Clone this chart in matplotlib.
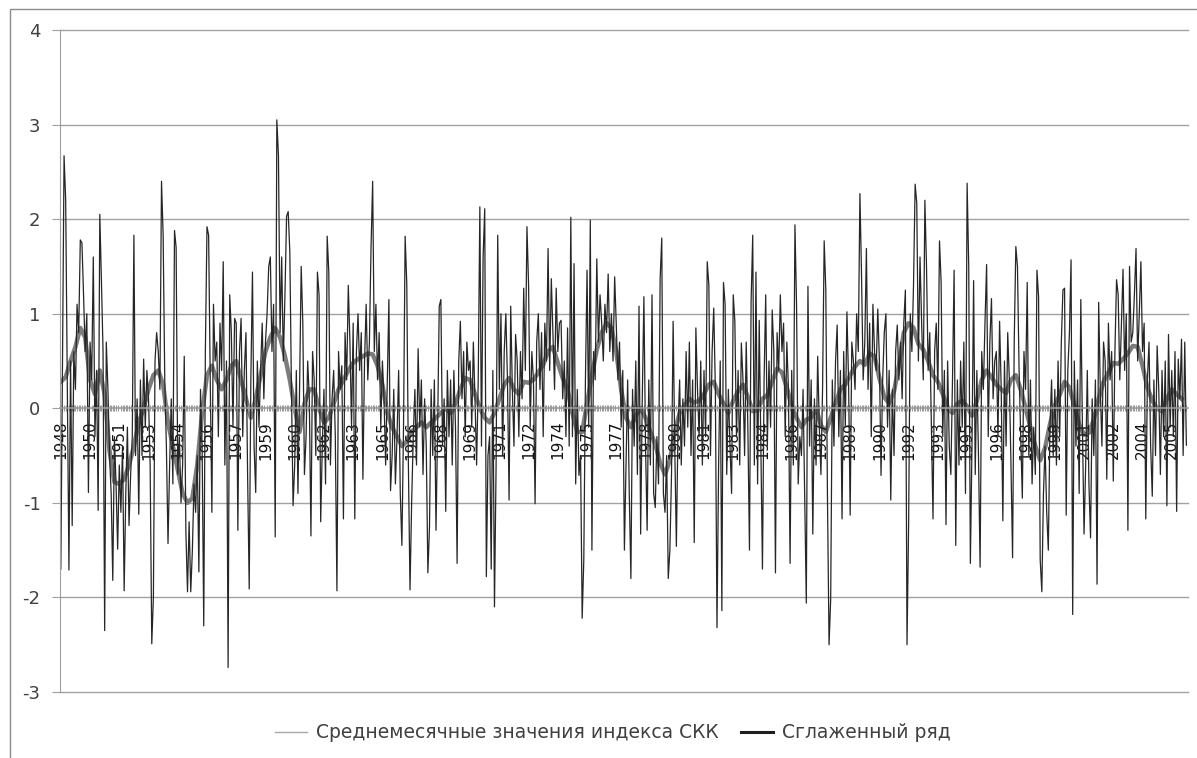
import matplotlib.pyplot as plt
import numpy as np
from matplotlib.lines import Line2D
from matplotlib.patches import Rectangle


# monthly index values, one row per 12 months
SKK_MONTHLY = [
    -1.7, 0.4, 2.67, 2.2, 0.3, -1.71, 0.5, -1.24, 0.6, 0.2, 1.1, 0.8,
    1.78, 1.75, 1.2, 0.6, 1.0, -0.89, 0.7, 0.3, 1.6, -0.3, 0.4, -1.08,
    2.05, 1.35, 0.6, -2.35, 0.7, 0.2, -0.5, -0.9, -1.82, -0.3, -0.8, -1.49,
    -0.6, -1.1, -0.4, -1.93, -0.9, -0.2, -1.24, -0.7, -0.3, 1.83, -0.5, 0.1,
    -1.12, 0.3, -0.5, 0.52, -0.2, 0.4, 0.1, -0.6, -2.49, -2.0, 0.5, 0.8,
    0.6, 0.2, 2.40, 1.83, 0.3, -0.4, -1.43, -0.6, 0.1, -0.8, 1.88, 1.7,
    -0.7, -0.3, -1.0, -0.6, 0.55, -1.3, -1.94, -1.2, -1.94, -1.5, -0.8, -1.1,
    -0.5, -1.73, 0.2, -0.4, -2.3, 0.6, 1.92, 1.83, 0.3, -1.1, 1.1, 0.5,
    0.7, -0.3, 0.9, 0.4, 1.55, -0.6, 0.5, -2.74, 1.2, 0.8, -0.2, 0.95,
    0.9, -1.29, 0.6, 0.95, -0.3, 0.4, 0.8, -0.7, -1.91, 0.3, 1.44, -0.4,
    -0.89, 0.5, -0.2, 0.4, 0.9, 0.1, 0.7, 1.0, 1.5, 1.6, 0.6, 1.1,
    -1.36, 3.05, 2.67, 0.8, 1.6, 0.5, 1.2, 2.03, 2.08, 1.65, 0.2, -1.03,
    -0.6, 0.4, -0.9, 0.2, 1.5, 0.9, -0.7, -0.3, 0.5, 0.1, -1.35, 0.6,
    0.3, -0.5, 1.44, 1.2, -1.2, -0.4, 0.2, -0.8, 1.82, 1.44, -0.6, 0.1,
    0.4, -0.3, -1.93, 0.6, 0.2, 0.45, -1.17, 0.8, 0.3, 1.3, 0.7, -0.2,
    0.9, -1.17, 0.6, 1.0, 0.4, 0.8, -0.75, 0.5, 1.1, 0.3, 0.7, 1.7,
    2.4, 0.6, 1.1, 0.3, 0.8, -0.2, 0.5, 0.1, -0.6, 0.3, 1.15, -0.87,
    -0.5, 0.2, -0.8, -0.3, 0.4, -0.9, -1.45, -0.2, 1.82, 1.32, -0.6, -1.92,
    -1.0, -0.3, 0.2, -0.6, 0.63, -0.2, 0.3, -0.7, 0.1, -0.4, -1.74, -1.25,
    0.2, -0.5, 0.3, -1.29, -0.2, 1.08, 1.15, -0.4, 0.1, -1.09, 0.4, -0.3,
    0.3, -0.6, 0.4, -0.2, -1.64, 0.5, 0.92, 0.1, 0.6, -0.3, 0.7, 0.4,
    0.5, -0.2, 0.7, 0.1, -0.6, 0.3, 2.13, -0.4, 1.6, 2.11, -1.78, -0.5,
    -0.3, -1.7, 0.4, -2.1, -0.6, 1.83, 0.2, 1.0, -0.5, 0.6, 1.0, 0.3,
    -0.97, 1.08, 0.2, -0.4, 0.78, 0.5, -0.3, 0.6, 0.1, 1.27, 0.4, 1.92,
    1.3, -0.2, 0.6, 0.3, -1.01, 0.7, 1.0, 0.2, 0.8, -0.3, 0.9, 0.5,
    1.69, 0.4, 1.37, 0.8, 0.2, 1.27, 0.6, 0.9, 0.93, 0.1, 0.5, -0.3,
    0.85, -0.4, 2.02, -0.3, 1.53, -0.8, 0.2, -0.71, -0.5, -2.22, -1.6, 0.3,
    1.46, -0.2, 1.99, -1.5, 0.6, 0.3, 1.58, 0.7, 1.2, 0.9, 0.5, 1.1,
    0.8, 1.42, 0.6, 1.0, 0.5, 1.39, 0.88, 0.3, 0.7, -0.2, 0.4, -1.5,
    -0.6, 0.3, -0.9, -1.8, 0.2, -0.4, 0.5, -0.7, 1.08, -1.33, 0.1, 1.18,
    -0.4, -1.29, 0.3, -0.6, 1.2, -0.9, -1.05, -0.3, -0.8, 1.37, 1.8, -0.9,
    -1.1, -0.5, -1.8, -1.5, -0.7, 0.92, -0.4, -1.46, -0.2, 0.3, -0.6, 0.1,
    -0.4, 0.6, -0.2, 0.7, -0.5, 0.3, -1.42, 0.85, 0.2, -0.3, 0.5, -0.6,
    0.4, -0.3, 1.55, 1.3, -0.5, 0.6, 1.06, 0.2, -2.32, -0.6, 0.5, -2.14,
    1.33, 1.1, -0.7, 0.2, -0.4, -0.9, 1.2, 0.92, -0.3, 0.4, -0.6, 0.69,
    0.3, -0.5, 0.7, -0.2, -1.5, 1.12, 1.83, -0.6, 1.44, -0.8, 0.93, -0.4,
    -1.7, 0.3, 1.2, -0.4, 0.5, -0.2, 1.04, 0.6, -1.74, 0.8, 0.4, 1.2,
    0.6, 0.9, -0.3, 0.7, 0.2, -1.64, 0.4, -0.6, 1.94, 1.08, -0.8, -0.3,
    -0.5, 0.2, -0.9, -2.06, 1.29, -0.4, 0.3, -1.33, 0.1, -0.6, 0.55, -0.2,
    -0.7, 0.2, 1.77, 1.25, -0.9, -2.5, -2.02, 0.3, -0.4, 0.5, 0.88, -0.3,
    0.4, -1.17, 0.6, -0.2, 1.02, 0.3, -1.13, 0.7, 0.5, 0.2, 1.0, 0.6,
    2.27, 1.4, 0.3, 0.7, 1.69, 0.2, 0.9, -0.3, 1.1, 0.6, 0.4, 1.05,
    0.5, -0.71, 0.3, 0.8, 1.0, -0.2, 0.4, -0.97, 0.2, -0.5, 0.6, 0.88,
    0.3, 0.7, 0.1, 0.9, 1.25, -2.5, -1.21, 1.0, 0.6, 1.3, 2.37, 2.17,
    0.5, 1.6, 0.9, 0.3, 2.2, 1.5, 0.4, 0.8, -0.2, -1.17, 0.6, 0.9,
    0.2, 1.77, 1.33, -0.3, 0.4, -1.23, 0.5, -0.4, -0.7, 0.3, 1.46, -1.45,
    0.3, -0.6, 0.5, -0.2, 0.7, -0.9, 2.38, 1.5, -1.64, -0.4, 1.35, -0.7,
    0.4, -0.5, -1.68, 0.6, 0.2, 0.9, 1.52, -0.3, 0.7, 1.16, 0.1, 0.5,
    0.6, -0.3, 0.92, 0.2, -1.19, 0.5, -0.4, 0.8, 0.3, -0.6, -1.58, 0.7,
    1.71, 1.5, 0.4, -0.3, -0.95, 0.6, 0.2, 1.33, -0.5, 0.3, -0.8, -0.2,
    -0.7, 1.46, 1.18, -1.6, -1.94, -0.9, -0.4, -1.1, -1.5, -0.2, 0.3, -0.5,
    0.2, -0.6, 0.5, -0.3, 0.7, 1.25, 1.27, -1.13, 0.4, 0.8, 1.57, -2.18,
    0.5, -0.4, 0.3, -0.9, 1.15, -0.2, -1.33, -0.6, 0.4, -0.8, -1.37, 0.1,
    -0.5, 0.3, -1.86, 1.12, 0.2, -0.4, 0.7, 0.5, -0.75, 0.9, 0.3, 0.6,
    -0.77, 0.6, 1.36, 1.2, 0.3, 0.9, 1.47, 0.4, 1.0, -1.29, 1.5, 0.7,
    0.8, 1.2, 1.69, 0.5, 1.0, 1.55, 0.6, 0.9, -1.17, 0.3, 0.7, -0.4,
    -0.93, 0.3, -0.5, 0.66, 0.2, -0.7, 0.4, -0.3, 0.5, -1.03, 0.78, -0.2,
    0.4, -0.3, 0.6, -1.09, 0.52, 0.1, 0.73, -0.5, 0.7, -0.39,
]

# smoothed series, read every 3 months
SKK_SMOOTH = [
    0.28, 0.33, 0.5, 0.65, 0.85, 0.75, 0.3, 0.15, 0.4, 0.15,
    -0.45, -0.78, -0.8, -0.75, -0.6, -0.4, -0.15, 0.0, 0.2, 0.35,
    0.4, 0.25, -0.15, -0.4, -0.65, -0.9, -1.0, -0.95, -0.6, -0.05,
    0.35, 0.45, 0.3, 0.2, 0.3, 0.45, 0.5, 0.3, 0.1, -0.1,
    0.1, 0.35, 0.6, 0.75, 0.85, 0.75, 0.55, 0.3, 0.0, -0.25,
    0.05, 0.2, 0.2, 0.0, -0.15, -0.1, 0.05, 0.2, 0.3, 0.4,
    0.48, 0.52, 0.55, 0.58, 0.57, 0.45, 0.25, -0.05, -0.2, -0.3,
    -0.4, -0.35, -0.25, -0.2, -0.15, -0.2, -0.15, -0.1, -0.05, 0.0,
    -0.05, 0.05, 0.2, 0.32, 0.3, 0.15, 0.0, -0.1, -0.15, -0.05,
    0.1, 0.25, 0.32, 0.2, 0.15, 0.28, 0.27, 0.3, 0.38, 0.46,
    0.6, 0.65, 0.48, 0.32, 0.2, -0.05, -0.25, -0.25, 0.05, 0.35,
    0.62, 0.8, 0.9, 0.85, 0.6, 0.2, -0.1, -0.2, -0.08, 0.0,
    -0.1, -0.25, -0.38, -0.58, -0.7, -0.55, -0.25, -0.05, 0.03, 0.1,
    0.06, 0.08, 0.15, 0.25, 0.28, 0.15, 0.05, -0.05, 0.08, 0.18,
    0.25, 0.12, -0.03, -0.02, 0.1, 0.14, 0.28, 0.42, 0.38, 0.22,
    0.02, -0.1, -0.2, -0.12, -0.1, 0.0, -0.18, -0.25, -0.1, 0.05,
    0.2, 0.25, 0.35, 0.44, 0.5, 0.46, 0.58, 0.55, 0.32, 0.12,
    0.05, 0.18, 0.45, 0.8, 0.9, 0.85, 0.68, 0.62, 0.5, 0.35,
    0.28, 0.15, 0.0, -0.05, 0.05, 0.08, 0.02, -0.08, 0.08, 0.3,
    0.4, 0.33, 0.25, 0.2, 0.16, 0.3, 0.35, 0.2, 0.0, -0.2,
    -0.4, -0.55, -0.42, -0.17, 0.03, 0.14, 0.28, 0.22, 0.03, -0.17,
    -0.28, -0.26, -0.12, 0.1, 0.28, 0.38, 0.48, 0.47, 0.52, 0.58,
    0.66, 0.65, 0.45, 0.22, 0.08, 0.0, -0.03, 0.1, 0.2, 0.15,
    0.1,
]

YEAR_LABELS = [
    1948, 1950, 1951, 1953, 1954, 1956, 1957, 1959, 1960, 1962, 1963, 1965, 1966,
    1968, 1969, 1971, 1972, 1974, 1975, 1977, 1978, 1980, 1981, 1983, 1984, 1986,
    1987, 1989, 1990, 1992, 1993, 1995, 1996, 1998, 1999, 2001, 2002, 2004, 2005,
]
Y_TICKS = [-3, -2, -1, 0, 1, 2, 3, 4]
SERIES_NAMES = ["Среднемесячные значения индекса СКК", "Сглаженный ряд"]


def main() -> None:
    plt.rcParams["axes.unicode_minus"] = False
    W, H = 1197, 758
    fig = plt.figure(figsize=(W / 100, H / 100), dpi=100)
    ax = fig.add_axes([60 / W, 1 - 692 / H, 1128 / W, 662 / H])

    # horizontal gridlines (drawn under the data)
    for v in Y_TICKS:
        if v != 0:
            ax.axhline(v, color="#a2a2a2", lw=1.0, zorder=0.5, clip_on=False)

    months = np.arange(len(SKK_MONTHLY))
    quarters = np.arange(len(SKK_SMOOTH)) * 3
    ax.plot(quarters, SKK_SMOOTH, color="#7c7c7c", lw=3.2, zorder=1.5,
            solid_joinstyle="round")
    ax.plot(months, SKK_MONTHLY, color="#262626", lw=0.9, zorder=2)

    ax.set_ylim(-3, 4)
    ax.set_xlim(-0.5, 694)
    ax.set_yticks(Y_TICKS)
    ax.tick_params(axis="y", labelsize=13, labelcolor="#404040", length=6,
                   color="#a0a0a0", pad=8)

    ax.spines["top"].set_visible(False)
    ax.spines["right"].set_visible(False)
    ax.spines["left"].set_color("#a0a0a0")
    ax.spines["bottom"].set_position(("data", 0))
    ax.spines["bottom"].set_color("#9a9a9a")
    ax.spines["bottom"].set_linewidth(1.2)

    ax.set_xticks(np.arange(len(YEAR_LABELS)) * 18)
    ax.set_xticklabels([str(y) for y in YEAR_LABELS], rotation=90,
                       fontsize=11, va="top")
    ax.set_xticks(months, minor=True)
    ax.tick_params(axis="x", which="major", length=0, pad=9, labelcolor="#111111")
    ax.tick_params(axis="x", which="minor", length=5, width=0.8,
                   direction="inout", color="#9a9a9a")

    handles = [
        Line2D([], [], color="#a8a8a8", lw=1.0),
        Line2D([], [], color="#1e1e1e", lw=2.2),
    ]
    leg = fig.legend(handles, SERIES_NAMES, loc="center", ncol=2,
                     bbox_to_anchor=(613 / W, 1 - 733 / H), frameon=False,
                     fontsize=13.5, handlelength=1.7, handletextpad=0.5,
                     columnspacing=1.2)
    for t in leg.get_texts():
        t.set_color("#404040")

    # chart border
    fig.add_artist(Rectangle((10 / W, -0.05), 1.0, 1.05 - 9 / H,
                             transform=fig.transFigure, fill=False,
                             ec="#8c8c8c", lw=1.0))

    fig.savefig("out.png", dpi=100)


if __name__ == "__main__":
    main()
